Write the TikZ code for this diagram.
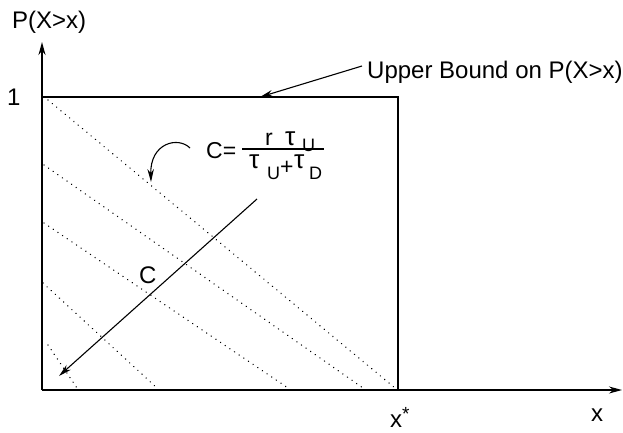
\documentclass[tikz,border=0pt]{standalone}
\usepackage{fontspec}
\setmainfont{Liberation Sans}
\usetikzlibrary{arrows.meta}
\begin{document}
\begin{tikzpicture}[x=1pt,y=-1pt,
  axis/.style={line width=1.5pt,-{Stealth[length=13pt,width=7pt]}},
  frame/.style={line width=1.5pt},
  dotline/.style={line width=1.5pt,dash pattern=on 0.01pt off 5.6pt,line cap=round},
  lbl/.style={font=\fontsize{24}{24}\selectfont,inner sep=0pt,anchor=base west},
  fml/.style={font=\fontsize{23}{23}\selectfont,inner sep=0pt,anchor=base west},
  tau/.style={font=\fontsize{26}{26}\selectfont,inner sep=0pt,anchor=base west},
  sub/.style={font=\fontsize{18}{18}\selectfont,inner sep=0pt,anchor=base west},
  ptr/.style={line width=1.1pt,-{Stealth[length=13pt,width=6.5pt]}}]
\useasboundingbox (0,0) rectangle (623,432);
% axes and bound box
\coordinate (O) at (42,390);
\coordinate (ytip) at (42,42);
\coordinate (xtip) at (622,390);
\coordinate (TL) at (42,97);
\coordinate (TR) at (398,97);
\coordinate (BR) at (398,390);
\draw[axis] (O) -- (ytip);
\draw[axis] (O) -- (xtip);
\draw[frame] (TL) -- (TR) -- (BR);
% dotted iso-lines
\coordinate (d1s) at (48,100);  \coordinate (d1e) at (395,388);
\coordinate (d2s) at (44,165);  \coordinate (d2e) at (363,388);
\coordinate (d3s) at (44,223);  \coordinate (d3e) at (288,388);
\coordinate (d4s) at (43,283);  \coordinate (d4e) at (157,388);
\coordinate (d5s) at (48,345);  \coordinate (d5e) at (77,388);
\foreach \i in {1,...,5} {\draw[dotline] (d\i s) -- (d\i e);}
% labels
\node[lbl] (pxx) at (12,28) {P(X>x)};
\node[lbl] (one) at (7,105) {1};
\node[lbl] (ub) at (367,78) {Upper Bound on P(X>x)};
\node[lbl] (xs) at (390,427) {x\raisebox{7pt}{\fontsize{19}{19}\selectfont *}};
\node[lbl] (xl) at (591,421) {x};
\node[lbl] (cl) at (139,283) {C};
% pointer to upper bound
\coordinate (ubs) at (362,66);
\coordinate (ube) at (260,97);
\draw[ptr] (ubs) -- (ube);
% C arrow
\coordinate (cs) at (257,199);
\coordinate (ce) at (59,376);
\draw[ptr] (cs) -- (ce);
% curved arrow
\coordinate (qs) at (190,148);
\coordinate (qe) at (151,182);
\draw[ptr] (qs) .. controls (178,136) and (150,143) .. (qe);
% formula
\node[fml] (ceq) at (206,158) {C=};
\coordinate (bl) at (242,149);
\coordinate (br) at (324,149);
\draw[line width=1.2pt] (bl) -- (br);
\node[fml] (nr) at (265,145) {r};
\node[tau] (nt) at (285,145) {τ};
\node[sub] (nu) at (302,151) {U};
\node[tau] (dt1) at (249,168) {τ};
\node[sub] (du) at (267,179) {U};
\node[fml] (dp) at (280,174) {+};
\node[tau] (dt2) at (294,168) {τ};
\node[sub] (dd) at (309,179) {D};
\end{tikzpicture}
\end{document}
